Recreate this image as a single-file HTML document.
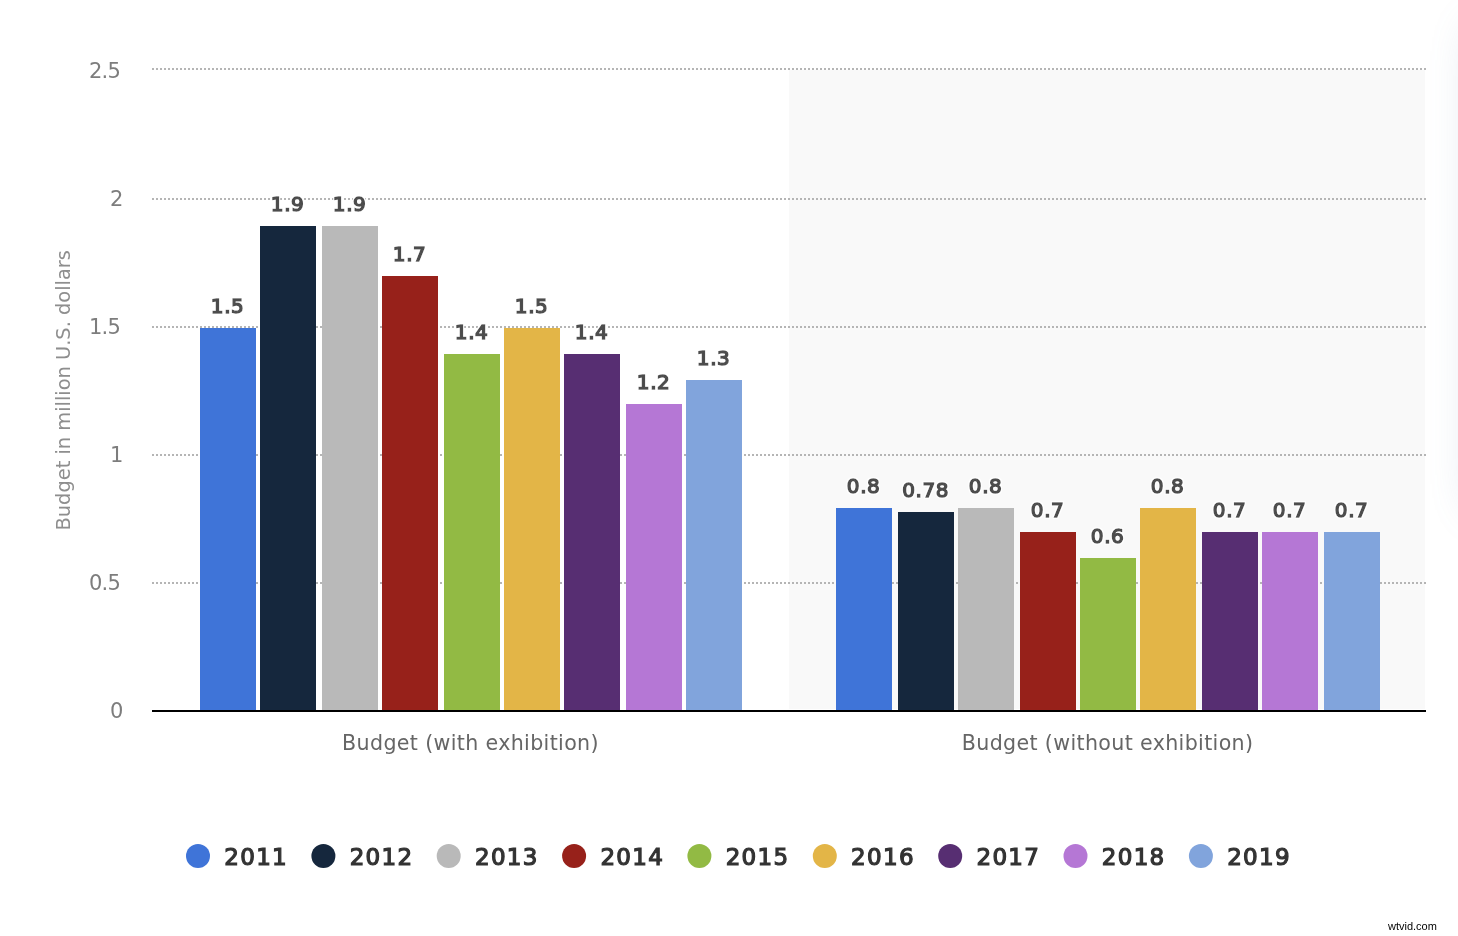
<!DOCTYPE html>
<html lang="en">
<head>
<meta charset="utf-8">
<title>Budget chart</title>
<style>
html,body{margin:0;padding:0;background:#fff;}
body{width:1458px;height:936px;overflow:hidden;position:relative;}
svg{position:absolute;left:0;top:0;display:block;}
.ax{font-family:"DejaVu Sans","Liberation Sans",sans-serif;}
.lg text{fill:#333;stroke:#333;stroke-width:1.2px;stroke-linejoin:miter;}
svg{will-change:transform;}
.shadow{position:absolute;left:1488px;top:40px;width:60px;height:455px;box-shadow:0 0 46px 10px rgba(105,135,175,0.32);}
</style>
</head>
<body>
<div class="shadow"></div>
<svg width="1458" height="936" viewBox="0 0 1458 936">
<defs><filter id="halo" x="-20%" y="-30%" width="140%" height="160%"><feMorphology in="SourceAlpha" operator="dilate" radius="1.1" result="d"/><feFlood flood-color="#fff"/><feComposite in2="d" operator="in" result="h"/><feMerge><feMergeNode in="h"/><feMergeNode in="SourceGraphic"/></feMerge></filter></defs>
<rect x="789" y="70" width="636" height="639" fill="#f9f9f9" shape-rendering="crispEdges"/>
<line x1="152" x2="1426" y1="69" y2="69" stroke="#b5b5b5" stroke-width="2" stroke-dasharray="2 2" shape-rendering="crispEdges"/>
<line x1="152" x2="1426" y1="199" y2="199" stroke="#b5b5b5" stroke-width="2" stroke-dasharray="2 2" shape-rendering="crispEdges"/>
<line x1="152" x2="1426" y1="327" y2="327" stroke="#b5b5b5" stroke-width="2" stroke-dasharray="2 2" shape-rendering="crispEdges"/>
<line x1="152" x2="1426" y1="455" y2="455" stroke="#b5b5b5" stroke-width="2" stroke-dasharray="2 2" shape-rendering="crispEdges"/>
<line x1="152" x2="1426" y1="583" y2="583" stroke="#b5b5b5" stroke-width="2" stroke-dasharray="2 2" shape-rendering="crispEdges"/>
<g shape-rendering="crispEdges">
<rect x="200" y="328" width="56" height="383" fill="#3f74d8"/>
<rect x="260" y="226" width="56" height="485" fill="#15273d"/>
<rect x="322" y="226" width="56" height="485" fill="#b9b9b9"/>
<rect x="382" y="276" width="56" height="435" fill="#97211a"/>
<rect x="444" y="354" width="56" height="357" fill="#92ba44"/>
<rect x="504" y="328" width="56" height="383" fill="#e3b547"/>
<rect x="564" y="354" width="56" height="357" fill="#572e72"/>
<rect x="626" y="404" width="56" height="307" fill="#b577d5"/>
<rect x="686" y="380" width="56" height="331" fill="#81a4dc"/>
<rect x="836" y="508" width="56" height="203" fill="#3f74d8"/>
<rect x="898" y="512" width="56" height="199" fill="#15273d"/>
<rect x="958" y="508" width="56" height="203" fill="#b9b9b9"/>
<rect x="1020" y="532" width="56" height="179" fill="#97211a"/>
<rect x="1080" y="558" width="56" height="153" fill="#92ba44"/>
<rect x="1140" y="508" width="56" height="203" fill="#e3b547"/>
<rect x="1202" y="532" width="56" height="179" fill="#572e72"/>
<rect x="1262" y="532" width="56" height="179" fill="#b577d5"/>
<rect x="1324" y="532" width="56" height="179" fill="#81a4dc"/>
<rect x="152" y="710" width="1274" height="2" fill="#000"/>
</g>
<text class="ax" x="120" y="78" text-anchor="end" font-size="21" letter-spacing="-0.8" fill="#7d7d7d">2.5</text>
<text class="ax" x="122.5" y="206" text-anchor="end" font-size="21" letter-spacing="-0.8" fill="#7d7d7d">2</text>
<text class="ax" x="120" y="334" text-anchor="end" font-size="21" letter-spacing="-0.8" fill="#7d7d7d">1.5</text>
<text class="ax" x="122.5" y="462" text-anchor="end" font-size="21" letter-spacing="-0.8" fill="#7d7d7d">1</text>
<text class="ax" x="120" y="590" text-anchor="end" font-size="21" letter-spacing="-0.8" fill="#7d7d7d">0.5</text>
<text class="ax" x="122.5" y="718" text-anchor="end" font-size="21" letter-spacing="-0.8" fill="#7d7d7d">0</text>
<text class="ax" transform="translate(70 530.5) rotate(-90)" font-size="19.4" fill="#8e8e8e">Budget in million U.S. dollars</text>
<text class="ax" x="470.5" y="750" text-anchor="middle" font-size="20.6" letter-spacing="0.35" fill="#666">Budget (with exhibition)</text>
<text class="ax" x="1107.6" y="750" text-anchor="middle" font-size="20.6" letter-spacing="0.35" fill="#666">Budget (without exhibition)</text>
<g class="ax" font-size="20" letter-spacing="0.55" fill="#4d4d4d" text-anchor="middle" stroke="#4d4d4d" stroke-width="1.5" stroke-linejoin="miter" filter="url(#halo)">
<text x="227.6" y="313">1.5</text>
<text x="287.6" y="211">1.9</text>
<text x="349.6" y="211">1.9</text>
<text x="409.6" y="261">1.7</text>
<text x="471.6" y="339">1.4</text>
<text x="531.6" y="313">1.5</text>
<text x="591.6" y="339">1.4</text>
<text x="653.6" y="389">1.2</text>
<text x="713.6" y="365">1.3</text>
<text x="863.6" y="493">0.8</text>
<text x="925.6" y="497">0.78</text>
<text x="985.6" y="493">0.8</text>
<text x="1047.6" y="517">0.7</text>
<text x="1107.6" y="543">0.6</text>
<text x="1167.6" y="493">0.8</text>
<text x="1229.6" y="517">0.7</text>
<text x="1289.6" y="517">0.7</text>
<text x="1351.6" y="517">0.7</text>
</g>
<g class="ax lg" font-size="23" letter-spacing="1.3">
<circle cx="198.0" cy="856" r="12" fill="#3f74d8"/><text x="224.3" y="865">2011</text>
<circle cx="323.4" cy="856" r="12" fill="#15273d"/><text x="349.7" y="865">2012</text>
<circle cx="448.7" cy="856" r="12" fill="#b9b9b9"/><text x="475.0" y="865">2013</text>
<circle cx="574.1" cy="856" r="12" fill="#97211a"/><text x="600.4" y="865">2014</text>
<circle cx="699.4" cy="856" r="12" fill="#92ba44"/><text x="725.7" y="865">2015</text>
<circle cx="824.8" cy="856" r="12" fill="#e3b547"/><text x="851.1" y="865">2016</text>
<circle cx="950.2" cy="856" r="12" fill="#572e72"/><text x="976.5" y="865">2017</text>
<circle cx="1075.5" cy="856" r="12" fill="#b577d5"/><text x="1101.8" y="865">2018</text>
<circle cx="1200.9" cy="856" r="12" fill="#81a4dc"/><text x="1227.2" y="865">2019</text>
</g>
<text x="1388" y="930" font-family="'Liberation Sans',sans-serif" font-size="11" fill="#000">wtvid.com</text>
</svg>
</body>
</html>
